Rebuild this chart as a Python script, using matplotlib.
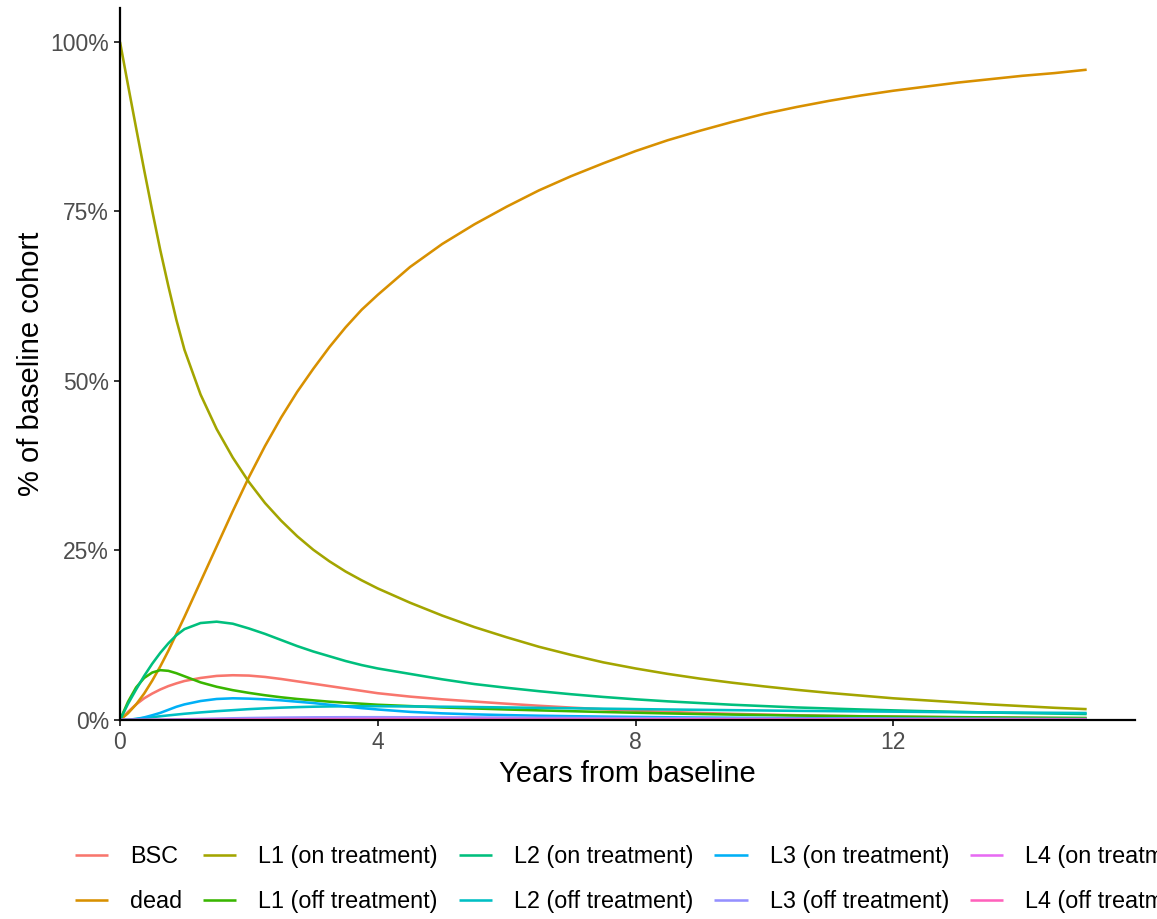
import matplotlib
matplotlib.use("Agg")
import matplotlib.pyplot as plt
from matplotlib.ticker import FuncFormatter

plt.rcParams['font.family'] = ['Liberation Sans', 'DejaVu Sans']

years = [0, 0.125, 0.25, 0.375, 0.5, 0.625, 0.75, 0.875, 1,
         1.25, 1.5, 1.75, 2, 2.25, 2.5, 2.75, 3, 3.25, 3.5, 3.75, 4,
         4.5, 5, 5.5, 6, 6.5, 7, 7.5, 8, 8.5, 9, 9.5,
         10, 10.5, 11, 11.5, 12, 12.5, 13, 13.5, 14, 14.5, 15]

bsc = [0, 1.2, 2.3, 3.2, 3.9, 4.5, 5.0, 5.4, 5.75,
       6.2, 6.5, 6.6, 6.55, 6.35, 6.05, 5.7, 5.35, 5.0, 4.65, 4.3, 3.95,
       3.45, 3.05, 2.72, 2.4, 2.1, 1.83, 1.58, 1.37, 1.19, 1.04, 0.91,
       0.8, 0.7, 0.62, 0.55, 0.49, 0.44, 0.39, 0.35, 0.31, 0.28, 0.25]
dead = [0, 1.0, 2.3, 3.9, 5.8, 7.9, 10.2, 12.7, 15.2,
        20.4, 25.6, 30.8, 35.8, 40.4, 44.6, 48.4, 51.8, 55.0, 57.9, 60.5, 62.7,
        66.8, 70.2, 73.1, 75.7, 78.1, 80.2, 82.1, 83.9, 85.5, 86.9, 88.2,
        89.4, 90.4, 91.3, 92.1, 92.8, 93.4, 94.0, 94.5, 95.0, 95.4, 95.9]
l1_on = [100, 93.6, 87.3, 81.1, 75.1, 69.3, 64.0, 59.0, 54.6,
         48.0, 42.9, 38.7, 35.1, 32.0, 29.4, 27.1, 25.1, 23.4, 21.9, 20.6, 19.4,
         17.3, 15.4, 13.7, 12.2, 10.8, 9.6, 8.5, 7.6, 6.8, 6.1, 5.5,
         4.95, 4.45, 4.0, 3.6, 3.2, 2.9, 2.6, 2.3, 2.05, 1.8, 1.6]
l1_off = [0, 2.7, 4.8, 6.2, 7.0, 7.35, 7.25, 6.9, 6.45,
          5.55, 4.9, 4.4, 4.0, 3.65, 3.35, 3.1, 2.9, 2.7, 2.55, 2.4, 2.25,
          2.05, 1.85, 1.7, 1.55, 1.42, 1.3, 1.18, 1.07, 0.97, 0.88, 0.8,
          0.73, 0.66, 0.6, 0.55, 0.5, 0.46, 0.42, 0.38, 0.35, 0.32, 0.3]
l2_on = [0, 2.4, 4.5, 6.5, 8.3, 9.9, 11.3, 12.5, 13.4,
         14.3, 14.5, 14.2, 13.5, 12.7, 11.8, 10.9, 10.1, 9.4, 8.7, 8.1, 7.6,
         6.8, 6.0, 5.3, 4.75, 4.25, 3.8, 3.4, 3.05, 2.75, 2.5, 2.25,
         2.05, 1.85, 1.7, 1.55, 1.42, 1.3, 1.2, 1.1, 1.02, 0.95, 0.88]
l2_off = [0, 0.05, 0.15, 0.3, 0.42, 0.55, 0.68, 0.8, 0.92,
          1.12, 1.3, 1.45, 1.6, 1.72, 1.82, 1.9, 1.96, 2.0, 2.02, 2.03, 2.03,
          2.0, 1.96, 1.91, 1.85, 1.79, 1.73, 1.67, 1.61, 1.55, 1.5, 1.45,
          1.4, 1.35, 1.31, 1.27, 1.23, 1.19, 1.15, 1.12, 1.09, 1.06, 1.03]
l3_on = [0, 0.03, 0.15, 0.38, 0.7, 1.05, 1.5, 1.95, 2.3,
         2.8, 3.1, 3.2, 3.15, 3.05, 2.9, 2.7, 2.5, 2.25, 2.0, 1.75, 1.55,
         1.2, 0.98, 0.83, 0.72, 0.63, 0.56, 0.5, 0.45, 0.4, 0.36, 0.33,
         0.3, 0.27, 0.25, 0.23, 0.21, 0.19, 0.17, 0.16, 0.15, 0.14, 0.13]
l3_off = [0, 0, 0, 0.01, 0.02, 0.03, 0.05, 0.07, 0.1,
          0.15, 0.2, 0.25, 0.29, 0.32, 0.35, 0.37, 0.39, 0.4, 0.41, 0.41, 0.41,
          0.4, 0.39, 0.37, 0.35, 0.33, 0.31, 0.29, 0.28, 0.26, 0.25, 0.23,
          0.22, 0.21, 0.2, 0.19, 0.18, 0.17, 0.16, 0.15, 0.14, 0.13, 0.13]
l4_on = [0, 0, 0, 0, 0, 0, 0.01, 0.01, 0.02,
         0.03, 0.05, 0.07, 0.09, 0.1, 0.12, 0.13, 0.14, 0.15, 0.16, 0.16, 0.17,
         0.17, 0.16, 0.16, 0.15, 0.14, 0.13, 0.12, 0.11, 0.1, 0.1, 0.09,
         0.08, 0.08, 0.07, 0.07, 0.06, 0.06, 0.05, 0.05, 0.05, 0.04, 0.04]
l4_off = [0, 0, 0, 0, 0, 0, 0, 0, 0,
          0.01, 0.01, 0.02, 0.02, 0.03, 0.03, 0.04, 0.04, 0.05, 0.05, 0.05, 0.06,
          0.06, 0.06, 0.06, 0.06, 0.06, 0.05, 0.05, 0.05, 0.05, 0.05, 0.04,
          0.04, 0.04, 0.04, 0.04, 0.03, 0.03, 0.03, 0.03, 0.03, 0.03, 0.03]

state_names = ["BSC", "dead", "L1 (on treatment)", "L1 (off treatment)",
               "L2 (on treatment)", "L2 (off treatment)", "L3 (on treatment)",
               "L3 (off treatment)", "L4 (on treatment)", "L4 (off treatment)"]
state_values = [bsc, dead, l1_on, l1_off, l2_on, l2_off, l3_on, l3_off, l4_on, l4_off]
state_colors = ["#F8766D", "#D89000", "#A3A500", "#39B600", "#00BF7D",
                "#00BFC4", "#00B0F6", "#9590FF", "#E76BF3", "#FF62BC"]

x_ticks = [0, 4, 8, 12]
y_ticks = [0, 25, 50, 75, 100]

W, H = 1157, 919
fig = plt.figure(figsize=(W / 100, H / 100), dpi=100)
ax = fig.add_axes([120 / W, 1 - 720 / H, 1015 / W, 712 / H])

handles = []
for name, vals, col in zip(state_names, state_values, state_colors):
    ln, = ax.plot(years, vals, color=col, lw=1.85, label=name,
                  solid_joinstyle='round', solid_capstyle='butt')
    handles.append(ln)

ax.set_xlim(0, 15.75)
ax.set_ylim(0, 105)
ax.set_xticks(x_ticks)
ax.set_yticks(y_ticks)
ax.yaxis.set_major_formatter(FuncFormatter(lambda v, p: f"{int(v)}%"))
for s in ["top", "right"]:
    ax.spines[s].set_visible(False)
for s in ["left", "bottom"]:
    ax.spines[s].set_linewidth(1.6)
    ax.spines[s].set_color("black")
ax.tick_params(axis="both", length=4.5, width=1.4, color="#333333",
               labelcolor="#4D4D4D", labelsize=16.5, pad=3.5)

ax.set_xlabel("Years from baseline", fontsize=21, color="black", labelpad=4)
ax.set_ylabel("% of baseline cohort", fontsize=21, color="black", labelpad=4)

# the legend is wider than the figure and is clipped at the right edge, as in the reference
leg = fig.legend(handles=handles, ncol=5, loc="upper left",
                 bbox_to_anchor=(75 / W, 1 - 845 / H), frameon=False,
                 fontsize=16.8, handlelength=1.42, handletextpad=0.94,
                 columnspacing=0.9, labelspacing=0.93, borderpad=0,
                 borderaxespad=0)
for t in leg.get_texts():
    t.set_color("black")

fig.savefig("out.png", dpi=100)
